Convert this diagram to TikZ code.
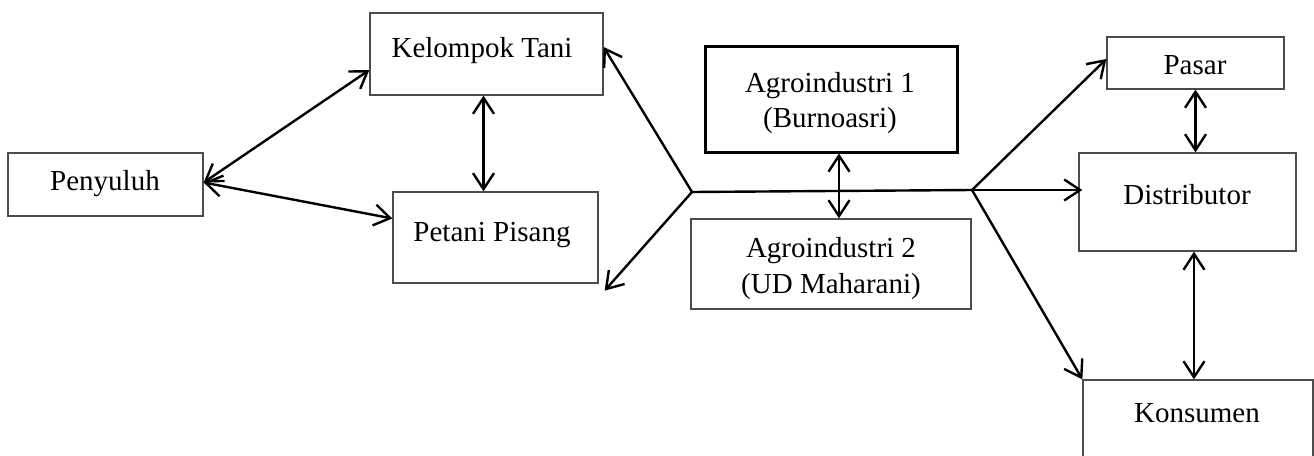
\documentclass[tikz,border=0pt]{standalone}
\usepackage{fontspec}
\setmainfont{Liberation Serif}
\usetikzlibrary{arrows.meta}
\begin{document}
\begin{tikzpicture}[x=1pt,y=-1pt,
  box/.style={draw=black!70,line width=1.3pt,inner sep=0pt},
  boxthick/.style={draw=black,line width=3pt,inner sep=0pt},
  lbl/.style={inner sep=0pt,anchor=base,font=\fontsize{29}{34}\selectfont},
  conn/.style={line width=2.4pt,>={Straight Barb[length=16pt,width=21pt]}}]
\clip (0,0) rectangle (1314,455);
% boxes
\node[box,minimum width=195pt,minimum height=63pt] (pen) at (105.5,184.5) {};
\node[box,minimum width=233pt,minimum height=82pt] (kt) at (486.5,54) {};
\node[box,minimum width=205pt,minimum height=91pt] (pp) at (495.5,237.5) {};
\node[boxthick,minimum width=252pt,minimum height=106pt] (a1) at (831,99) {};
\node[box,minimum width=280pt,minimum height=90pt] (a2) at (831,264) {};
\node[box,minimum width=177pt,minimum height=52pt] (pasar) at (1195.5,63) {};
\node[box,minimum width=217pt,minimum height=98pt] (dist) at (1187.5,202) {};
\node[box,minimum width=230pt,minimum height=100pt] (kons) at (1198,430) {};
% labels
\node[lbl] (penT) at (105,190) {Penyuluh};
\node[lbl] (ktT) at (482,57) {Kelompok Tani};
\node[lbl] (ppT) at (492,241) {Petani Pisang};
\node[lbl] (a1T1) at (830,92) {Agroindustri 1};
\node[lbl] (a1T2) at (830,127) {(Burnoasri)};
\node[lbl] (a2T1) at (831,257) {Agroindustri 2};
\node[lbl] (a2T2) at (831,293) {(UD Maharani)};
\node[lbl] (pasarT) at (1195,74) {Pasar};
\node[lbl] (distT) at (1187,204) {Distributor};
\node[lbl] (konsT) at (1197,422) {Konsumen};
% junctions
\coordinate (J1) at (692,192);
\coordinate (J2) at (972,190);
\coordinate (ktp) at ([xshift=-3pt]kt.south);
\coordinate (a1p) at ([xshift=8pt]a1.south);
\coordinate (distp) at ([xshift=6.5pt]dist.south);
% connectors
\draw[conn,<->] ([yshift=2pt]pen.east) -- ([yshift=-16pt]kt.west);
\draw[conn,<->] ([yshift=2pt]pen.east) -- ([yshift=19pt]pp.west);
\draw[conn,<->] (ktp) -- (ktp |- pp.north);
\draw[conn,->] (J1) -- ([yshift=7pt]kt.east);
\draw[conn,->] (J1) -- ([shift={(6pt,-7pt)}]pp.south east);
\draw[conn] (J1) -- (J2);
\draw[conn,->] (J2) -- ([yshift=12pt,xshift=4pt]dist.west);
\draw[conn,->] (J2) -- ([yshift=4pt]pasar.west);
\draw[conn,->] (J2) -- (kons.north west);
\draw[conn,<->] (a1p) -- (a1p |- a2.north);
\draw[conn,<->] (pasar.south) -- (pasar.south |- dist.north);
\draw[conn,<->] (distp) -- (distp |- kons.north);
\end{tikzpicture}
\end{document}
